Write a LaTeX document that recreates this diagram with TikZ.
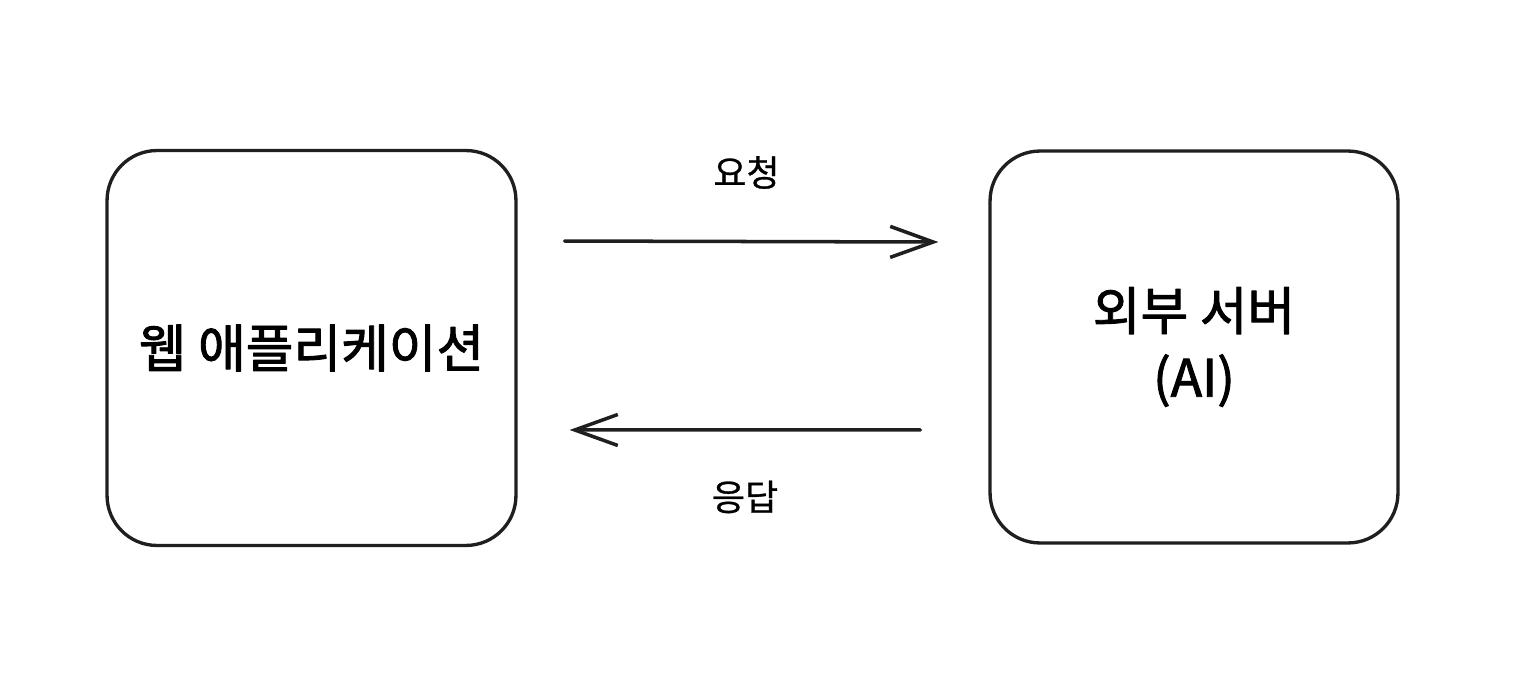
\documentclass[tikz,border=0pt]{standalone}
\usepackage{fontspec}
\usepackage{tikz}
\usetikzlibrary{arrows.meta}
\newfontfamily\kr[FakeBold=0.8]{Noto Sans CJK KR}
\newfontfamily\krmain[FakeBold=1.8]{Noto Sans CJK KR}

\begin{document}
\begin{tikzpicture}[x=0.02cm,y=-0.02cm,line join=round,
  box/.style={draw=black!88,line width=1.9pt,rounded corners=1cm,
    minimum width=8.18cm,minimum height=7.9cm,inner sep=0pt,
    font=\krmain\fontsize{29.5}{38}\selectfont,align=center},
  flow/.style={draw=black!88,line width=2pt,line cap=round,
    -{Straight Barb[length=0.86cm,width=0.62cm,line width=2pt]}},
  tag/.style={font=\kr\fontsize{20.5}{24}\selectfont}]
\useasboundingbox (0,0) rectangle (1538,682);
\node[box] (app) at (311.5,348) {웹 애플리케이션};
\node[box,minimum width=8.16cm,minimum height=7.84cm] (server) at (1194,347) {외부 서버\\(AI)};
\draw[flow] ([xshift=0.94cm,yshift=2.14cm]app.east) -- ([xshift=-1.0cm,yshift=2.1cm]server.west)
  node[tag,midway,yshift=1.38cm,xshift=-0.1cm] (req) {요청};
\draw[flow] ([xshift=-1.36cm,yshift=-1.66cm]server.west) -- ([xshift=1.04cm,yshift=-1.64cm]app.east)
  node[tag,midway,yshift=-1.34cm] (res) {응답};
\end{tikzpicture}
\end{document}
